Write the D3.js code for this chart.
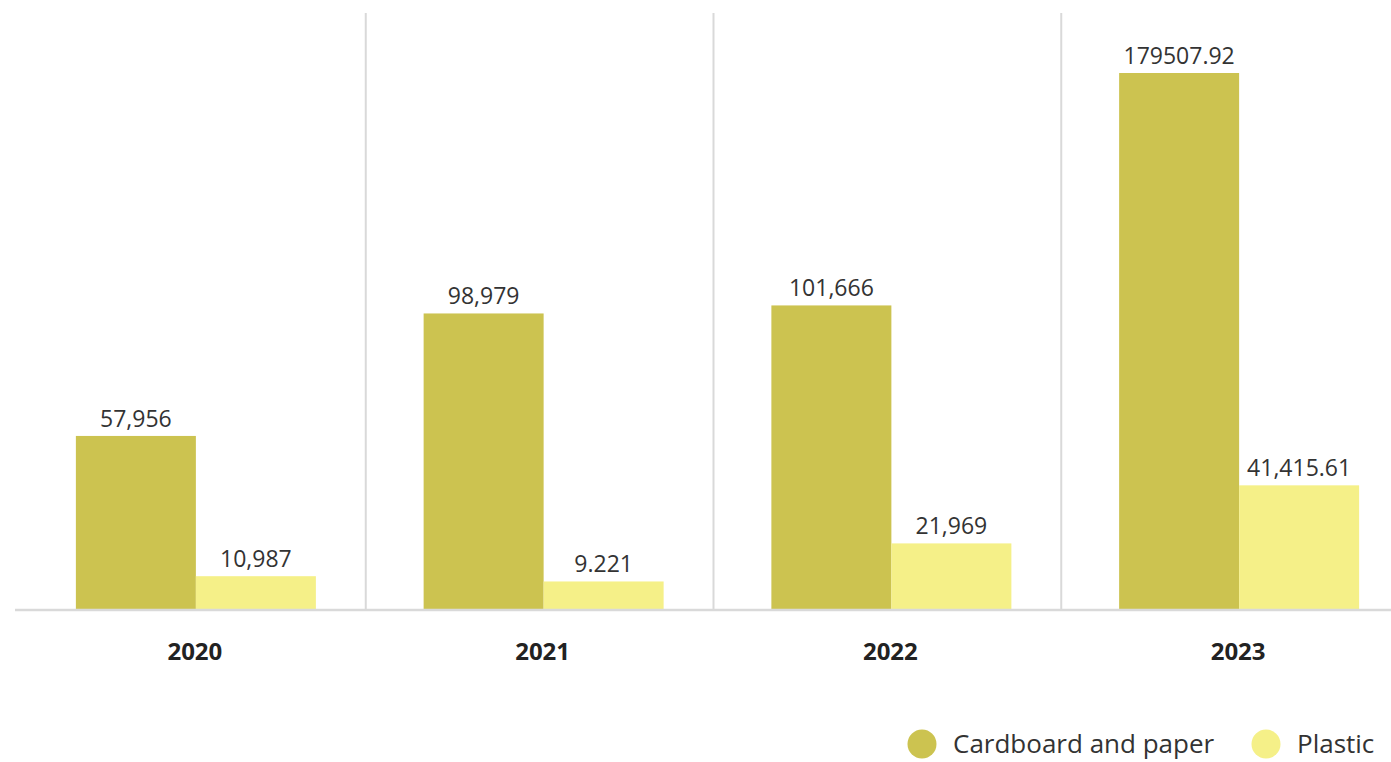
<!DOCTYPE html>
<html><head><meta charset="utf-8">
<script src="https://cdn.jsdelivr.net/npm/d3@7/dist/d3.min.js"></script>
<style>html,body{margin:0;padding:0;background:#fff;}svg{display:block;}</style>
</head><body><svg id="c" width="1391" height="762"></svg>
<script>
const years = ["2020","2021","2022","2023"];
const seriesNames = ["Cardboard and paper","Plastic"];
const cardboard = [57956, 98979, 101666, 179507.92];
const plastic = [10987, 9221, 21969, 41415.61];
const cardboardLabels = ["57,956","98,979","101,666","179507.92"];
const plasticLabels = ["10,987","9.221","21,969","41,415.61"];
const colors = ["#CCC350","#F5F088"];

const svg = d3.select("#c");
const font = "'Open Sans', 'Noto Sans', sans-serif";
const baseY = 609;

const x0 = d3.scaleBand().domain(years).range([22, 1413]).paddingInner(0).paddingOuter(0);
const x1 = d3.scaleBand().domain(seriesNames).range([0, 240]);
const y = d3.scaleLinear().domain([0, 179507.92]).range([baseY, 73]);

const rows = years.map((yr,i)=>({year:yr, vals:[
  {s:seriesNames[0], v:cardboard[i], l:cardboardLabels[i], c:colors[0]},
  {s:seriesNames[1], v:plastic[i], l:plasticLabels[i], c:colors[1]}]}));

// dividers
svg.selectAll("line.div").data(years.slice(1)).enter().append("line")
  .attr("x1", d=>x0(d)-4).attr("x2", d=>x0(d)-4)
  .attr("y1", 13).attr("y2", baseY)
  .attr("stroke", "#d9d9d9").attr("stroke-width", 2);

const g = svg.selectAll("g.grp").data(rows).enter().append("g")
  .attr("transform", d=>`translate(${x0(d.year)+x0.bandwidth()/2-120},0)`);

g.selectAll("rect").data(d=>d.vals).enter().append("rect")
  .attr("x", d=>x1(d.s)).attr("width", x1.bandwidth())
  .attr("y", d=>y(d.v)).attr("height", d=>baseY-y(d.v))
  .attr("fill", d=>d.c);

g.selectAll("text.lbl").data(d=>d.vals).enter().append("text")
  .attr("x", d=>x1(d.s)+x1.bandwidth()/2).attr("y", d=>y(d.v)-9)
  .attr("text-anchor","middle").attr("font-family",font).attr("font-size",23)
  .attr("fill","#333").text(d=>d.l);

// baseline
svg.append("line").attr("x1",15).attr("x2",1391).attr("y1",baseY+1).attr("y2",baseY+1)
  .attr("stroke","#d9d9d9").attr("stroke-width",2.5);

// year labels
svg.selectAll("text.yr").data(years).enter().append("text")
  .attr("x", d=>x0(d)+x0.bandwidth()/2-1).attr("y", 660)
  .attr("text-anchor","middle").attr("font-family",font).attr("font-weight","bold")
  .attr("font-size",24).attr("fill","#222").text(d=>d);

// legend
const leg = [{n:seriesNames[0], c:colors[0], x:922},{n:seriesNames[1], c:colors[1], x:1266}];
const lg = svg.selectAll("g.leg").data(leg).enter().append("g");
lg.append("circle").attr("cx",d=>d.x).attr("cy",744).attr("r",14.5).attr("fill",d=>d.c);
lg.append("text").attr("x",d=>d.x+31).attr("y",753).attr("font-family",font)
  .attr("font-size",26).attr("fill","#333").text(d=>d.n);
</script></body></html>
